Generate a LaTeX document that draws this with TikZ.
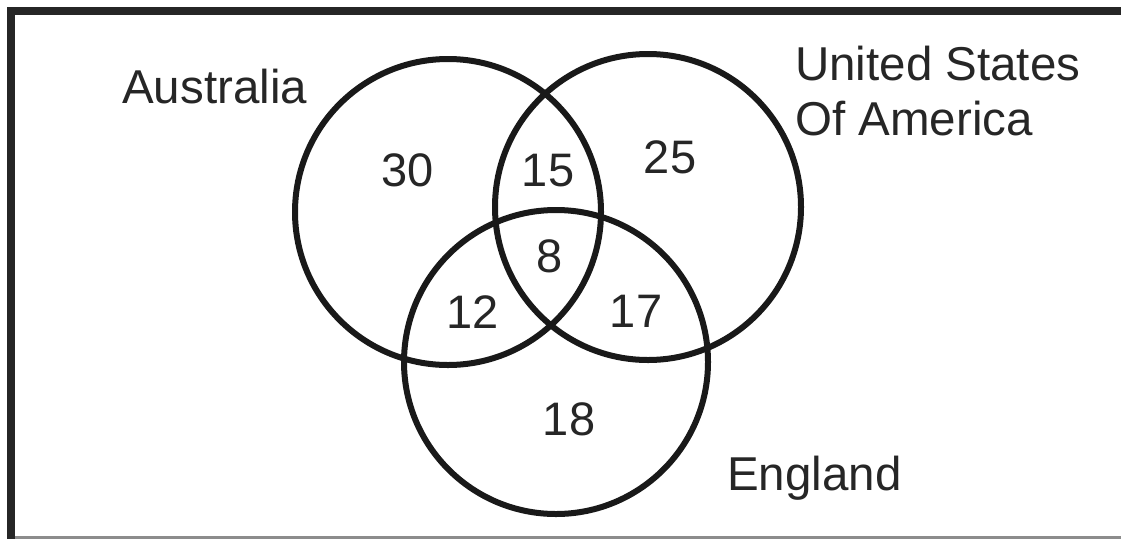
\documentclass[tikz,border=0pt]{standalone}
\usepackage{fontspec}
\setmainfont{Liberation Sans}
\begin{document}
\begin{tikzpicture}[x=1pt,y=-1pt,
  setcircle/.style={circle,draw=black!90,line width=6pt,inner sep=0pt},
  num/.style={font=\fontsize{47}{56}\selectfont,inner sep=0pt,anchor=center,text=black!85},
  lbl/.style={font=\fontsize{47.5}{56}\selectfont,inner sep=0pt,anchor=base west,text=black!85,align=left}]
\useasboundingbox (0,0) rectangle (1121,539);
\fill[white] (0,0) rectangle (1121,539);
% frame
\fill[black!85] (7,7) rectangle (1121,15);
\fill[black!85] (7,7) rectangle (15,539);
\fill[black!45] (15,536) rectangle (1121,539);
% circles
\node[setcircle,minimum size=306pt] (aus) at (448,212) {};
\node[setcircle,minimum size=306pt] (usa) at (648,207) {};
\node[setcircle,minimum size=304pt] (eng) at (556,362) {};
% labels
\node[lbl] (laus) at (122,103) {Australia};
\node[lbl] (lusa) at (795,80) {United States};
\node[lbl] (lusa2) at (795,135) {Of America};
\node[lbl] (leng) at (727,490) {England};
% numbers
\node[num] (n30) at (408,170) {30};
\node[num] (n15) at (548,171) {15};
\node[num] (n25) at (670,157) {25};
\node[num] (n8) at (550,256) {8};
\node[num] (n12) at (473,312) {12};
\node[num] (n17) at (636,311) {17};
\node[num] (n18) at (569,419) {18};
\end{tikzpicture}
\end{document}
